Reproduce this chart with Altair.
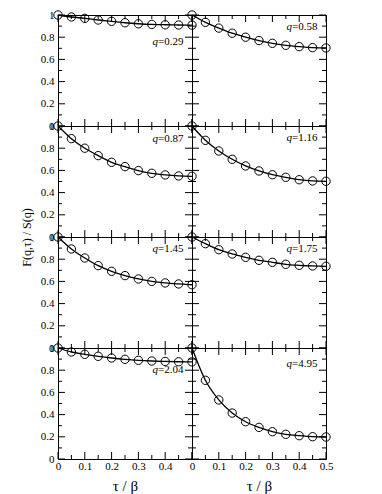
import altair as alt
import pandas as pd

# ---- data ----
tau = [0.0, 0.05, 0.1, 0.15, 0.2, 0.25, 0.3, 0.35, 0.4, 0.45, 0.5]
q_values = ["0.29", "0.58", "0.87", "1.16", "1.45", "1.75", "2.04", "4.95"]
F_029 = [1.0, 0.982, 0.970, 0.955, 0.943, 0.930, 0.921, 0.915, 0.912, 0.910, 0.909]
F_058 = [1.0, 0.934, 0.882, 0.836, 0.800, 0.770, 0.745, 0.727, 0.715, 0.706, 0.703]
F_087 = [1.0, 0.886, 0.800, 0.733, 0.673, 0.634, 0.598, 0.574, 0.559, 0.550, 0.547]
F_116 = [1.0, 0.871, 0.775, 0.700, 0.640, 0.595, 0.561, 0.538, 0.516, 0.505, 0.502]
F_145 = [1.0, 0.892, 0.811, 0.742, 0.691, 0.652, 0.622, 0.600, 0.586, 0.577, 0.570]
F_175 = [1.0, 0.940, 0.886, 0.847, 0.817, 0.790, 0.772, 0.754, 0.745, 0.739, 0.736]
F_204 = [1.0, 0.964, 0.943, 0.925, 0.910, 0.898, 0.889, 0.883, 0.879, 0.876, 0.875]
F_495 = [1.0, 0.709, 0.532, 0.414, 0.336, 0.285, 0.246, 0.222, 0.210, 0.201, 0.198]
series = [F_029, F_058, F_087, F_116, F_145, F_175, F_204, F_495]

y_major = [0.0, 0.2, 0.4, 0.6, 0.8, 1.0]
y_minor = [0.1, 0.3, 0.5, 0.7, 0.9]
x_major = [0.0, 0.1, 0.2, 0.3, 0.4, 0.5]
x_minor = [0.05, 0.15, 0.25, 0.35, 0.45]
x_labels_left = [0.0, 0.1, 0.2, 0.3, 0.4]
x_labels_right = [0.0, 0.1, 0.2, 0.3, 0.4, 0.5]

# ---- layout ----
W, H = 134, 111
FONT = "Liberation Serif"
MAJ, MIN = 7, 4
label_dy = [27, 12, 12.5, 12, 12, 12, 22, 15.5]


def xs():
    return alt.Scale(domain=[0, 0.5], nice=False, zero=False)


def ys():
    return alt.Scale(domain=[0, 1], nice=False, zero=False)


def panel(i):
    row, col = divmod(i, 2)

    def X():
        if row == 3:
            return alt.X(
                "tau:Q", scale=xs(), title="τ / β",
                axis=alt.Axis(values=x_labels_left if col == 0 else x_labels_right,
                              format="~g", ticks=False, domain=False, grid=False,
                              labelFlush=False, labelPadding=1, labelFont=FONT, labelFontSize=11,
                              labelColor="black", titleFont=FONT, titleFontSize=15,
                              titleFontWeight="normal", titleColor="black", titlePadding=7),
            )
        return alt.X("tau:Q", scale=xs(), axis=None)

    def Y():
        if col == 0:
            ax_kw = dict(values=y_major, format="~g", ticks=False, domain=False, grid=False,
                         labelPadding=4, labelFont=FONT, labelFontSize=11, labelColor="black")
            if row == 1:
                return alt.Y("F:Q", scale=ys(), title="F(q,τ) / S(q)",
                             axis=alt.Axis(**ax_kw, titleX=-32, titleY=H, titleAngle=270,
                                           titleAlign="center", titleBaseline="middle",
                                           titleFont=FONT, titleFontSize=12,
                                           titleFontWeight="normal", titleColor="black"))
            return alt.Y("F:Q", scale=ys(), title=None, axis=alt.Axis(**ax_kw))
        return alt.Y("F:Q", scale=ys(), axis=None)

    df = pd.DataFrame({"tau": tau, "F": series[i]})
    base = alt.Chart(df)
    line = base.mark_line(color="black", strokeWidth=1.3, interpolate="monotone").encode(x=X(), y=Y())
    pts = base.mark_point(shape="circle", filled=False, color="black", size=70,
                          strokeWidth=1, opacity=1).encode(x=X(), y=Y())

    def yticks(vals, L, side):
        x0, x1 = (0, L) if side == "left" else (W - L, W)
        return alt.Chart(pd.DataFrame({"F": vals})).mark_rule(color="black", strokeWidth=1).encode(
            y=Y(), x=alt.value(x0), x2=alt.value(x1)
        )

    def xticks(vals, L, side):
        y0, y1 = (0, L) if side == "top" else (H - L, H)
        return alt.Chart(pd.DataFrame({"tau": vals})).mark_rule(color="black", strokeWidth=1).encode(
            x=X(), y=alt.value(y0), y2=alt.value(y1)
        )

    lab_df = pd.DataFrame({"q": [q_values[i]], "txt": ["=" + q_values[i]]})
    eq = alt.Chart(lab_df).mark_text(
        font=FONT, fontSize=11, align="right", baseline="middle", color="black"
    ).encode(x=alt.value(W - 8.5), y=alt.value(label_dy[i]), text="txt:N")
    qq = alt.Chart(lab_df).mark_text(
        font=FONT, fontSize=11, fontStyle="italic", align="right", baseline="middle", color="black"
    ).encode(x=alt.value(W - 8.5 - 25.5), y=alt.value(label_dy[i]), text=alt.value("q"))

    layers = [
        line, pts,
        yticks(y_major, MAJ, "left"), yticks(y_minor, MIN, "left"),
        yticks(y_major, MAJ, "right"), yticks(y_minor, MIN, "right"),
        xticks(x_major, MAJ, "top"), xticks(x_minor, MIN, "top"),
        xticks(x_major, MAJ, "bottom"), xticks(x_minor, MIN, "bottom"),
        eq, qq,
    ]
    return alt.layer(*layers).properties(width=W, height=H)


chart = alt.concat(*[panel(i) for i in range(8)], columns=2, spacing=0, bounds="flush").properties(
    padding={"left": 11, "top": 0, "right": 5, "bottom": 0}
).configure_view(stroke="black", strokeWidth=1)

chart.save("out.html", embed_options={"renderer": "svg", "actions": False})
